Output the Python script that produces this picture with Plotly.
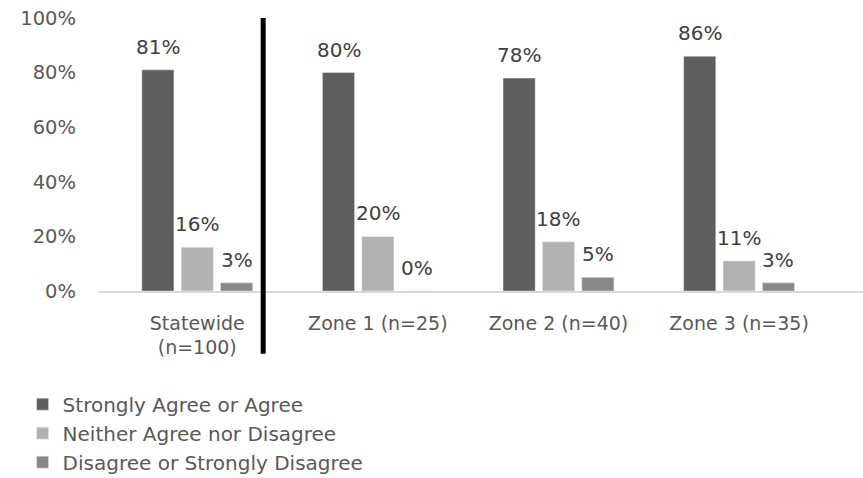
import plotly.graph_objects as go

categories = ["Statewide<br>(n=100)", "Zone 1 (n=25)", "Zone 2 (n=40)", "Zone 3 (n=35)"]
series_names = [
    "Strongly Agree or Agree",
    "Neither Agree nor Disagree",
    "Disagree or Strongly Disagree",
]
agree = [81, 80, 78, 86]
neutral = [16, 20, 18, 11]
disagree = [3, 0, 5, 3]
series_values = [agree, neutral, disagree]
colors = ["#5e5e5e", "#b2b2b2", "#888888"]

FONT = "DejaVu Sans"
BAR_W = 0.178
offsets = [-0.307, -0.089, 0.129]

fig = go.Figure()
annotations = []
for name, vals, col, off in zip(series_names, series_values, colors, offsets):
    fig.add_trace(go.Bar(
        x=categories, y=vals, name=name, marker_color=col,
        width=BAR_W, offset=off,
    ))
    for i, v in enumerate(vals):
        annotations.append(dict(
            x=i + off + BAR_W / 2, y=v, xref="x", yref="y",
            text=f"{v}%", showarrow=False, yanchor="middle", yshift=23,
            font=dict(family=FONT, size=20, color="#404040"),
        ))

fig.update_layout(
    width=863, height=478,
    margin=dict(l=99, r=0, t=18, b=187, autoexpand=False),
    paper_bgcolor="white", plot_bgcolor="white",
    barmode="overlay",
    font=dict(family=FONT, size=18, color="#595959"),
    annotations=annotations,
    showlegend=True,
    legend=dict(
        x=-0.1, y=-0.343, xanchor="left", yanchor="top",
        orientation="v", font=dict(family=FONT, size=20, color="#595959"),
        bgcolor="rgba(0,0,0,0)", itemclick=False,
    ),
    shapes=[dict(
        type="line", xref="x", yref="paper",
        x0=0.365, x1=0.365, y0=1.0, y1=-0.23,
        line=dict(color="black", width=5),
    )],
)
fig.update_xaxes(
    type="category", range=[-0.544, 3.686], automargin=False,
    showline=True, linecolor="#d9d9d9", linewidth=1.5,
    showgrid=False, ticks="", ticklabelstandoff=14,
    tickfont=dict(family=FONT, size=19, color="#595959"),
)
fig.update_yaxes(
    range=[0, 100], tickvals=[0, 20, 40, 60, 80, 100], automargin=False,
    ticktext=["0%", "20%", "40%", "60%", "80%", "100%"],
    showgrid=False, zeroline=False, showline=False, ticks="",
    ticklabelstandoff=22,
    tickfont=dict(family=FONT, size=19.5, color="#595959"),
)

fig.write_html("out.html")
